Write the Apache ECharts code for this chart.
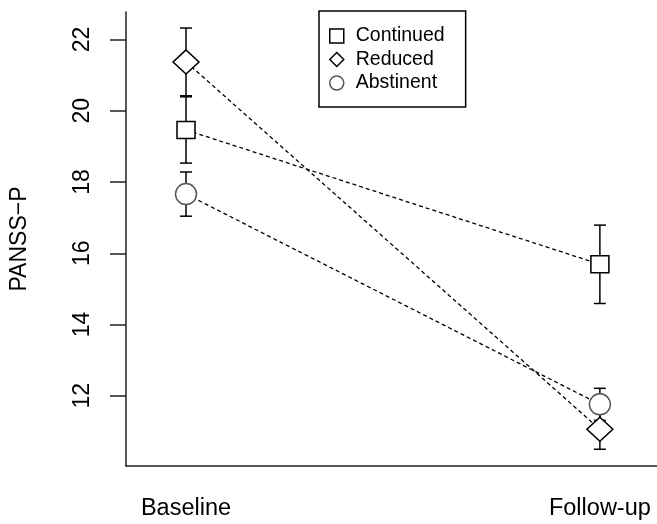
<!DOCTYPE html>
<html>
<head>
<meta charset="utf-8">
<script src="https://cdn.jsdelivr.net/npm/echarts@6/dist/echarts.min.js"></script>
<style>
  html, body { margin: 0; padding: 0; background: #fff; }
  #chart { width: 657px; height: 524px; }
</style>
</head>
<body>
<div id="chart"></div>
<script>
// time points and groups
const timePoints = ['Baseline', 'Follow-up'];
const groups = ['Continued', 'Reduced', 'Abstinent'];

// mean PANSS-P per group: [baseline, follow-up]
const continuedMean = [19.46, 15.69];
const reducedMean = [21.37, 11.06];
const abstinentMean = [17.66, 11.76];

// half-length of the error bars
const continuedErr = [0.93, 1.10];
const reducedErr = [0.95, 0.56];
const abstinentErr = [0.62, 0.45];

const yTicks = [12, 14, 16, 18, 20, 22];

const font = 'Liberation Sans, Arial, Helvetica, sans-serif';

const groupStyle = {
  Continued: { symbol: 'rect', size: [18, 17], border: '#000' },
  Reduced: { symbol: 'diamond', size: [26, 24], border: '#000' },
  Abstinent: { symbol: 'circle', size: 21, border: '#555' }
};

const means = { Continued: continuedMean, Reduced: reducedMean, Abstinent: abstinentMean };
const errs = { Continued: continuedErr, Reduced: reducedErr, Abstinent: abstinentErr };

const chart = echarts.init(document.getElementById('chart'));

const errorData = [];
groups.forEach(g => {
  means[g].forEach((m, i) => {
    errorData.push([i + 1, m - errs[g][i], m + errs[g][i]]);
  });
});

const lineSeries = groups.map(g => ({
  name: g,
  type: 'line',
  z: 3,
  data: means[g].map((m, i) => [i + 1, m]),
  symbol: groupStyle[g].symbol,
  symbolSize: groupStyle[g].size,
  itemStyle: {
    color: '#fff',
    borderColor: groupStyle[g].border,
    borderWidth: 1.5
  },
  lineStyle: {
    color: '#000',
    width: 1.3,
    type: [4, 3]
  },
  emphasis: { disabled: true }
}));

const errorSeries = {
  type: 'custom',
  z: 1,
  data: errorData,
  renderItem: function (params, api) {
    const x = api.value(0);
    const lo = api.coord([x, api.value(1)]);
    const hi = api.coord([x, api.value(2)]);
    const cap = 6;
    const style = { stroke: '#000', lineWidth: 1.5 };
    return {
      type: 'group',
      children: [
        { type: 'line', shape: { x1: lo[0], y1: lo[1], x2: hi[0], y2: hi[1] }, style: style },
        { type: 'line', shape: { x1: lo[0] - cap, y1: lo[1], x2: lo[0] + cap, y2: lo[1] }, style: style },
        { type: 'line', shape: { x1: hi[0] - cap, y1: hi[1], x2: hi[0] + cap, y2: hi[1] }, style: style }
      ]
    };
  }
};

chart.setOption({
  animation: false,
  backgroundColor: '#fff',
  grid: { left: 121, right: 0, top: 12, bottom: 58 },
  legend: {
    orient: 'vertical',
    left: 319,
    top: 11,
    padding: [15, 21, 14, 10],
    itemGap: 3.5,
    itemWidth: 14,
    itemHeight: 14,
    borderColor: '#000',
    borderWidth: 1.5,
    textStyle: { fontFamily: font, fontSize: 19.5, color: '#000', padding: [0, 0, 0, 7] },
    data: groups.map(g => ({
      name: g,
      icon: groupStyle[g].symbol,
      itemStyle: { color: '#fff', borderColor: groupStyle[g].border, borderWidth: 1.5 }
    }))
  },
  xAxis: {
    type: 'value',
    min: 0.855,
    max: 2.138,
    splitLine: { show: false },
    axisLine: { lineStyle: { color: '#222', width: 1.5 } },
    axisTick: { show: false },
    axisLabel: {
      customValues: [1, 2],
      formatter: v => timePoints[Math.round(v) - 1],
      margin: 31,
      fontFamily: font,
      fontSize: 23.5,
      color: '#000'
    }
  },
  yAxis: {
    type: 'value',
    min: 10.03,
    max: 22.77,
    name: 'PANSS\u2212P',
    nameLocation: 'middle',
    nameGap: 95,
    nameRotate: 90,
    nameTextStyle: { fontFamily: font, fontSize: 23, color: '#000' },
    splitLine: { show: false },
    axisLine: { show: true, lineStyle: { color: '#222', width: 1.5 } },
    axisTick: { show: true, length: 16, customValues: yTicks, lineStyle: { color: '#222', width: 1.5 } },
    axisLabel: {
      customValues: yTicks,
      rotate: 90,
      margin: 32,
      fontFamily: font,
      fontSize: 23,
      color: '#000'
    }
  },
  series: [errorSeries].concat(lineSeries)
});
</script>
</body>
</html>
